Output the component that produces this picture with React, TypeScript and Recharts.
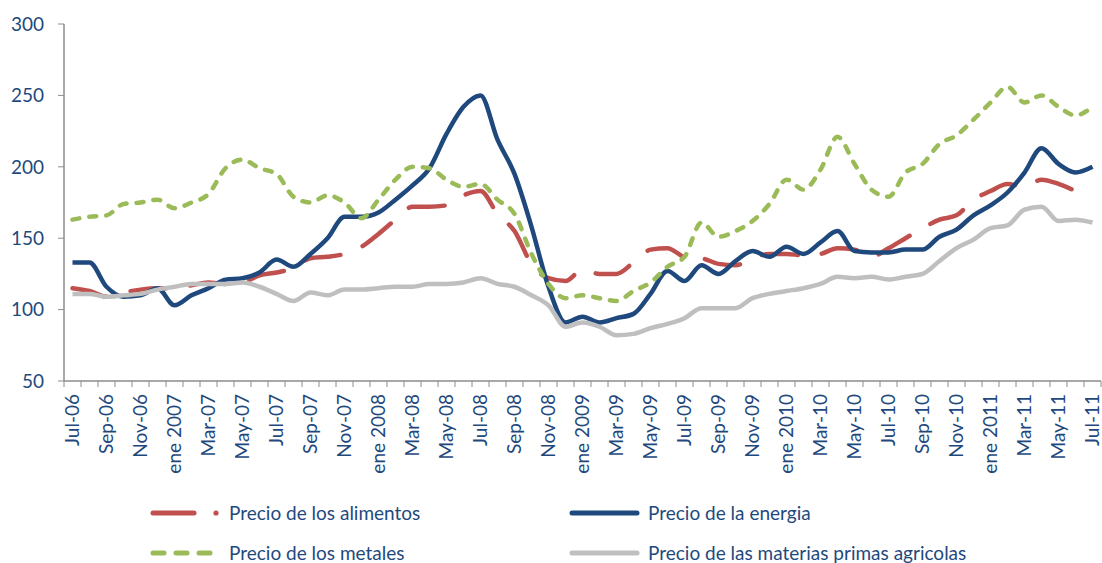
import { LineChart, Line, XAxis, YAxis, Legend } from 'recharts';

const months = [
  'Jul-06', 'Aug-06', 'Sep-06', 'Oct-06', 'Nov-06', 'Dec-06',
  'ene 2007', 'Feb-07', 'Mar-07', 'Apr-07', 'May-07', 'Jun-07', 'Jul-07', 'Aug-07', 'Sep-07', 'Oct-07', 'Nov-07', 'Dec-07',
  'ene 2008', 'Feb-08', 'Mar-08', 'Apr-08', 'May-08', 'Jun-08', 'Jul-08', 'Aug-08', 'Sep-08', 'Oct-08', 'Nov-08', 'Dec-08',
  'ene 2009', 'Feb-09', 'Mar-09', 'Apr-09', 'May-09', 'Jun-09', 'Jul-09', 'Aug-09', 'Sep-09', 'Oct-09', 'Nov-09', 'Dec-09',
  'ene 2010', 'Feb-10', 'Mar-10', 'Apr-10', 'May-10', 'Jun-10', 'Jul-10', 'Aug-10', 'Sep-10', 'Oct-10', 'Nov-10', 'Dec-10',
  'ene 2011', 'Feb-11', 'Mar-11', 'Apr-11', 'May-11', 'Jun-11', 'Jul-11',
];

// Precio de los alimentos (no value for the last month)
const food = [
  115, 113, 109, 112, 114, 115, 115, 117, 119, 118, 119, 124, 126, 129, 136, 137, 139, 144,
  153, 163, 172, 172, 173, 180, 183, 167, 155, 132, 122, 120,
  128, 125, 125, 133, 142, 143, 137, 136, 132, 131, 136, 139,
  139, 138, 139, 143, 142, 137, 143, 150, 157, 163, 166, 177,
  183, 188, 186, 191, 188, 183, null,
];

// Precio de la energia
const energy = [
  133, 133, 116, 109, 110, 115, 103, 110, 115, 121, 122, 126, 135, 130, 139, 150, 165, 165,
  168, 177, 187, 199, 223, 242, 250, 219, 195, 158, 116, 91,
  95, 91, 94, 97, 111, 127, 120, 131, 125, 134, 141, 137,
  144, 139, 147, 155, 141, 140, 140, 142, 142, 151, 156, 166,
  173, 182, 196, 213, 202, 196, 200,
];

// Precio de los metales
const metals = [
  163, 165, 166, 174, 175, 177, 171, 175, 181, 199, 205, 199, 195, 179, 175, 180, 175, 164,
  177, 191, 200, 199, 191, 186, 188, 177, 167, 139, 118, 108,
  110, 108, 106, 113, 119, 130, 137, 161, 151, 155, 162, 174,
  191, 184, 198, 221, 202, 184, 179, 196, 202, 216, 222, 233,
  245, 256, 245, 250, 242, 236, 242,
];

// Precio de las materias primas agricolas
const agri = [
  111, 111, 109, 110, 111, 114, 116, 118, 118, 118, 119, 116, 111, 106, 112, 110, 114, 114,
  115, 116, 116, 118, 118, 119, 122, 118, 116, 110, 103, 88,
  91, 88, 82, 83, 87, 90, 94, 101, 101, 101, 108, 111,
  113, 115, 118, 123, 122, 123, 121, 123, 125, 134, 143, 149,
  157, 159, 170, 172, 162, 163, 161,
];

const yTicks = [50, 100, 150, 200, 250, 300];

const data = months.map((month, i) => ({
  month,
  food: food[i],
  energy: energy[i],
  metals: metals[i],
  agri: agri[i],
}));

const TEXT = '#1F497D';
const AXIS = '#8C8C8C';
const FONT = 'Lato, "Liberation Sans", sans-serif';
const WIDTH = 1102;
const HEIGHT = 563;
const PLOT_LEFT = 64;
const PLOT_RIGHT = 1;
const BAND = (WIDTH - PLOT_LEFT - PLOT_RIGHT) / months.length;

const RED_DASH = '36 24';
const GREEN_DASH = '7 10';

const MonthTick = (props: any) => {
  const { x, y, payload, index } = props;
  const axisY = y - 8;
  const ly = y + 5;
  return (
    <g>
      <line x1={x - BAND / 2} x2={x - BAND / 2} y1={axisY} y2={axisY + 6} stroke={AXIS} />
      {index === months.length - 1 && (
        <line x1={x + BAND / 2} x2={x + BAND / 2} y1={axisY} y2={axisY + 6} stroke={AXIS} />
      )}
      {index % 2 === 0 && (
        <text
          x={x}
          y={ly}
          transform={`rotate(-90, ${x}, ${ly})`}
          textAnchor="end"
          dy="0.35em"
          fill={TEXT}
          fontSize={19}
          fontFamily={FONT}
        >
          {payload.value}
        </text>
      )}
    </g>
  );
};

const LegendIcon = ({ dataKey, color }: { dataKey: string; color: string }) => {
  if (dataKey === 'food') {
    return (
      <svg width={72} height={12} style={{ display: 'block' }}>
        <line x1={3} x2={44} y1={6} y2={6} stroke={color} strokeWidth={5} strokeLinecap="round" />
        <circle cx={66} cy={6} r={2.6} fill={color} />
      </svg>
    );
  }
  if (dataKey === 'metals') {
    return (
      <svg width={72} height={12} style={{ display: 'block' }}>
        <line x1={3} x2={68} y1={6} y2={6} stroke={color} strokeWidth={5} strokeLinecap="round" strokeDasharray="11 12" />
      </svg>
    );
  }
  return (
    <svg width={72} height={12} style={{ display: 'block' }}>
      <line x1={3} x2={68} y1={6} y2={6} stroke={color} strokeWidth={5} strokeLinecap="round" />
    </svg>
  );
};

// legend slot (column, row) per series
const legendSlots: Record<string, [number, number]> = {
  food: [150, 32],
  energy: [569, 32],
  metals: [150, 72],
  agri: [569, 72],
};

const LegendContent = ({ payload }: any) => (
  <div style={{ position: 'relative', width: WIDTH, height: 82, overflow: 'hidden' }}>
    {(payload || []).map((entry: any) => {
      const [left, cy] = legendSlots[entry.dataKey] || [0, 0];
      return (
        <div
          key={entry.dataKey}
          style={{
            position: 'absolute',
            left,
            top: cy - 12,
            height: 24,
            display: 'flex',
            alignItems: 'center',
            whiteSpace: 'nowrap',
          }}
        >
          <LegendIcon dataKey={entry.dataKey} color={entry.color} />
          <span style={{ marginLeft: 7, fontFamily: FONT, fontSize: 19, color: TEXT, lineHeight: '24px' }}>
            {entry.value}
          </span>
        </div>
      );
    })}
  </div>
);

export default function App() {
  return (
    <div style={{ position: 'absolute', left: 0, top: 0, background: '#fff' }}>
      <LineChart
        width={WIDTH}
        height={HEIGHT}
        data={data}
        margin={{ top: 24, right: PLOT_RIGHT, left: 0, bottom: 0 }}
      >
        <XAxis
          dataKey="month"
          interval={0}
          height={100}
          padding={{ left: BAND / 2, right: BAND / 2 }}
          tickLine={false}
          axisLine={{ stroke: AXIS, strokeWidth: 1.5 }}
          tick={<MonthTick />}
        />
        <YAxis
          width={PLOT_LEFT}
          domain={[50, 300]}
          ticks={yTicks}
          interval={0}
          tickSize={6}
          tickMargin={14}
          axisLine={{ stroke: AXIS, strokeWidth: 1.5 }}
          tickLine={{ stroke: AXIS }}
          tick={{ fill: TEXT, fontSize: 19, fontFamily: FONT }}
        />
        <Legend
          verticalAlign="bottom"
          height={82}
          wrapperStyle={{ left: 0, width: WIDTH }}
          content={<LegendContent />}
        />
        <Line
          type="monotone"
          dataKey="food"
          name="Precio de los alimentos"
          stroke="#C0504D"
          strokeWidth={4.5}
          strokeDasharray={RED_DASH}
          strokeLinecap="round"
          dot={false}
          activeDot={false}
          isAnimationActive={false}
        />
        <Line
          type="monotone"
          dataKey="energy"
          name="Precio de la energia"
          stroke="#1F497D"
          strokeWidth={4.5}
          dot={false}
          activeDot={false}
          isAnimationActive={false}
        />
        <Line
          type="monotone"
          dataKey="metals"
          name="Precio de los metales"
          stroke="#9BBB59"
          strokeWidth={4.5}
          strokeDasharray={GREEN_DASH}
          strokeLinecap="round"
          dot={false}
          activeDot={false}
          isAnimationActive={false}
        />
        <Line
          type="monotone"
          dataKey="agri"
          name="Precio de las materias primas agricolas"
          stroke="#BFBFBF"
          strokeWidth={4.5}
          dot={false}
          activeDot={false}
          isAnimationActive={false}
        />
      </LineChart>
    </div>
  );
}
